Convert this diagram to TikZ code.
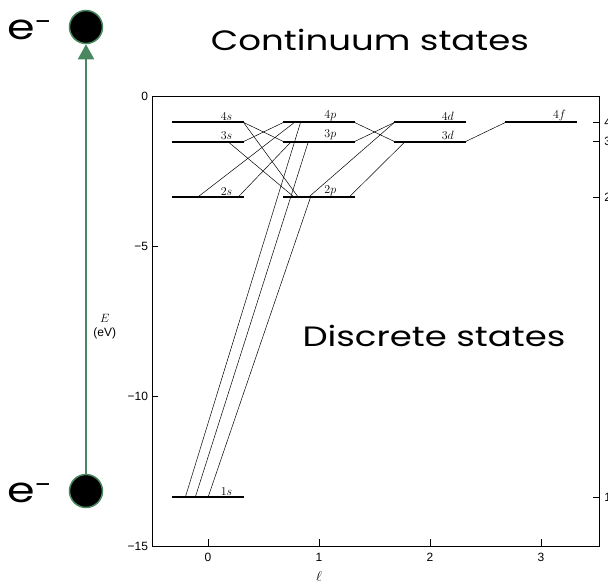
\documentclass[tikz,border=0pt]{standalone}
\usepackage{fontspec}
\setmainfont{Poppins}
\newfontfamily\bigfont[FakeStretch=1.27]{Poppins}
\newfontfamily\axisfont{Liberation Sans}
\usetikzlibrary{arrows.meta,calc}
\definecolor{ExcGreen}{RGB}{74,135,96}
\tikzset{
  level/.style={line width=1.9pt},
  trans/.style={line width=0.5pt},
  frame/.style={line width=0.8pt},
  lvl/.style={font=\fontsize{12}{14}\selectfont, inner sep=1pt, above},
  ticklbl/.style={font=\axisfont\fontsize{12}{14}\selectfont, inner sep=1pt},
  electron/.style={circle, fill=black, draw=ExcGreen, line width=1.5pt, minimum size=33pt, inner sep=0pt},
  excite/.style={-{Triangle[length=15pt,width=16pt]}, line width=2pt, draw=ExcGreen},
  bigtext/.style={font=\bigfont\fontsize{28}{34}\selectfont, inner sep=0pt},
  etext/.style={font=\bigfont\fontsize{35}{40}\selectfont, inner sep=0pt}
}
\begin{document}
\begin{tikzpicture}[x=1pt, y=-1pt]
\useasboundingbox (0,0) rectangle (608,581);
% the electron being lifted
\node[electron] (etop) at (86,27) {};
\node[electron] (ebot) at (86,491) {};
\node[etext] (elabtop) at (30,30) {e\textsuperscript{-}};
\node[etext] (elabbot) at (30,493) {e\textsuperscript{-}};
\draw[excite] (ebot) -- (etop);
\node[bigtext] (cont) at (370,40) {Continuum states};
% energy level diagram
\begin{scope}[shift={(208,96)}, x=111pt, y=30pt]
  \draw[frame] (-0.505,0) rectangle (3.53,-15);
  \foreach \e in {-5,-10}
    \draw[frame] (-0.505,\e) -- ++(0.055,0);
  \foreach \e/\t in {0/0, -5/−5, -10/−10, -15/−15}
    \node[ticklbl, anchor=east] (yl\e) at (-0.53,\e) {\t};
  \foreach \l in {0,...,3} {
    \draw[frame] (\l,-15) -- ++(0,0.22);
    \node[ticklbl, anchor=north] (xl\l) at (\l,-15.2) {\l};
  }
  \foreach \e/\t in {-0.88/4, -1.52/3, -3.38/2, -13.38/1} {
    \draw[frame] (3.53,\e) -- ++(-0.065,0);
    \node[ticklbl, anchor=west] (rl\t) at (3.56,\e) {\t};
  }
  \node[font=\axisfont\fontsize{12}{14}\selectfont, align=center] (ylab) at (-0.93,-7.7) {$E$\\(eV)};
  \node[font=\fontsize{14}{16}\selectfont] (xlab) at (1,-16) {$\ell$};
  % levels
  \foreach \n/\l/\e/\p in {1s/0/-13.38/.76, 2s/0/-3.38/.76, 3s/0/-1.52/.76, 4s/0/-0.88/.76,
                           2p/1/-3.38/.66, 3p/1/-1.52/.66, 4p/1/-0.88/.66,
                           3d/2/-1.52/.75, 4d/2/-0.88/.75, 4f/3/-0.88/.76}
    \draw[level] (\l-0.32,\e) coordinate (\n-l) -- node[lvl, pos=\p] {$\n$} (\l+0.32,\e) coordinate (\n-r);
  % allowed transitions
  \foreach \a/\fa/\b/\fb in {4s/1/3p/0, 4s/1/2p/.21, 3s/1/4p/0, 3s/.78/2p/.155,
                             2s/.35/4p/.155, 2s/.92/3p/.11,
                             1s/.18/4p/.24, 1s/.32/3p/.35, 1s/.5/2p/.38,
                             4p/1/3d/0, 3p/1/4d/0, 2p/.35/4d/0, 2p/.92/3d/.15, 3d/1/4f/0}
    \draw[trans] ($(\a-l)!\fa!(\a-r)$) -- ($(\b-l)!\fb!(\b-r)$);
\end{scope}
\node[bigtext] (disc) at (434,336) {Discrete states};
\end{tikzpicture}
\end{document}
